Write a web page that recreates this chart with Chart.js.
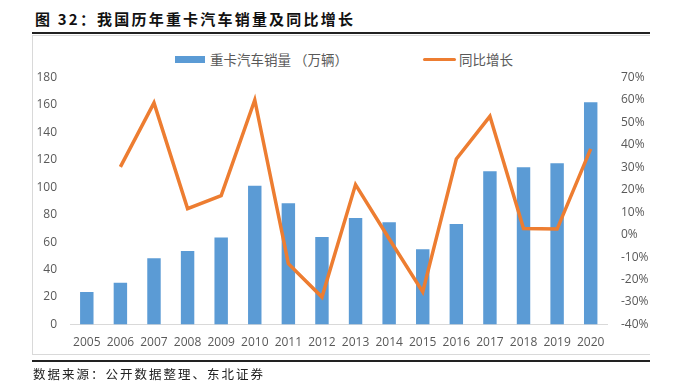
<!DOCTYPE html>
<html>
<head>
<meta charset="utf-8">
<script src="https://cdn.jsdelivr.net/npm/chart.js@4/dist/chart.umd.min.js"></script>
<style>
  html, body { margin: 0; padding: 0; background: #fff; }
  #wrap { position: relative; width: 677px; height: 391px; overflow: hidden; }
  #title { position: absolute; left: 35px; top: 8px; font: bold 15px "Noto Sans CJK SC", sans-serif; letter-spacing: 2.2px; color: #111; white-space: nowrap; }
  .rule { position: absolute; left: 32px; width: 618px; height: 1.5px; background: #222; }
  #frame { position: absolute; left: 32px; top: 35px; width: 618px; height: 320px; border: 1px solid #d9d9d9; border-right: none; box-sizing: border-box; }
  #source { position: absolute; left: 33px; top: 364px; font: 12.5px "Noto Sans CJK SC", sans-serif; letter-spacing: 2px; color: #222; white-space: nowrap; }
  .lg { position: absolute; font: 13.5px "Noto Sans CJK SC", sans-serif; color: #595959; white-space: nowrap; line-height: 18px; top: 50px; }
  .sw { position: absolute; }
  canvas { position: absolute; left: 0; top: 0; }
</style>
</head>
<body>
<div id="wrap">
  <div id="title">图 32：我国历年重卡汽车销量及同比增长</div>
  <div class="rule" style="top:32px"></div>
  <div id="frame"></div>
  <div class="sw" style="left:175px;top:56px;width:30px;height:6.5px;background:#5B9BD5"></div>
  <div class="lg" style="left:210px">重卡汽车销量 （万辆）</div>
  <div class="sw" style="left:423px;top:57.5px;width:33px;height:3.5px;background:#ED7D31;border-radius:2px"></div>
  <div class="lg" style="left:459px">同比增长</div>
  <canvas id="c" width="677" height="391"></canvas>
  <div class="rule" style="top:360px"></div>
  <div id="source">数据来源：公开数据整理、东北证券</div>
</div>
<script>
const years = ['2005','2006','2007','2008','2009','2010','2011','2012','2013','2014','2015','2016','2017','2018','2019','2020'];
// 销量（万辆）
const sales = [23.6, 30.5, 48.3, 53.6, 63.4, 101.2, 88.3, 63.8, 77.6, 74.5, 54.8, 73.3, 111.7, 114.6, 117.5, 162.0];
// 同比增长（%）
const growth = [null, 30.2, 58.7, 11.6, 17.4, 60.0, -12.9, -27.8, 22.3, -1.8, -25.5, 33.7, 52.7, 2.7, 2.5, 38.2];
const leftTicks = { min: 0, max: 180, step: 20 };
const rightTicks = { min: -40, max: 70, step: 10 };

const tickFont = { family: 'Open Sans', size: 12 };
const tickColor = '#595959';

new Chart(document.getElementById('c').getContext('2d'), {
    data: {
        labels: years,
        datasets: [{
            type: 'line',
            label: '同比增长',
            data: growth,
            yAxisID: 'y1',
            borderColor: '#ED7D31',
            borderWidth: 3.5,
            pointRadius: 0,
            tension: 0,
            order: 0
        }, {
            type: 'bar',
            label: '重卡汽车销量 （万辆）',
            data: sales,
            yAxisID: 'y',
            backgroundColor: '#5B9BD5',
            barPercentage: 0.4,
            categoryPercentage: 1,
            order: 1
        }]
    },
    options: {
        responsive: false,
        animation: false,
        layout: { padding: { top: 77.5, bottom: 36.5, left: 0, right: 0 } },
        plugins: { legend: { display: false }, tooltip: { enabled: false } },
        scales: {
            x: {
                grid: { display: false, drawTicks: false },
                border: { display: true, color: '#d9d9d9', width: 1 },
                ticks: { font: tickFont, color: tickColor, padding: 11, maxRotation: 0, autoSkip: false },
                afterFit: s => { s.height = 30; }
            },
            y: {
                position: 'left',
                min: leftTicks.min, max: leftTicks.max,
                grid: { display: false, drawTicks: false },
                border: { display: false },
                ticks: { stepSize: leftTicks.step, font: tickFont, color: tickColor, padding: 13 },
                afterFit: s => { s.width = 70; }
            },
            y1: {
                position: 'right',
                min: rightTicks.min, max: rightTicks.max,
                grid: { display: false, drawTicks: false },
                border: { display: false },
                ticks: { stepSize: rightTicks.step, font: tickFont, color: tickColor, padding: 13.5,
                    callback: v => v + '%' },
                afterFit: s => { s.width = 69.5; }
            }
        }
    }
});
</script>
</body>
</html>
